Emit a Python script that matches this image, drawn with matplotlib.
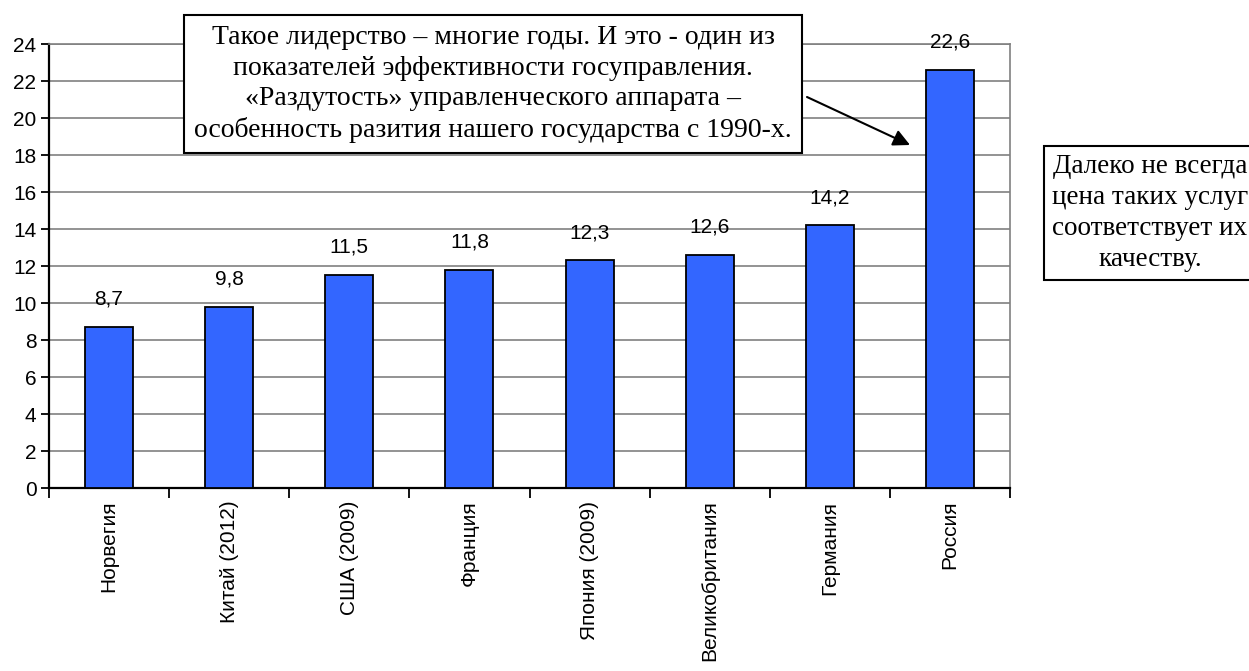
import numpy as np
import matplotlib.pyplot as plt
from matplotlib.patches import FancyArrowPatch

countries = ['Норвегия', 'Китай (2012)', 'США (2009)', 'Франция', 'Япония (2009)',
             'Великобритания', 'Германия', 'Россия']
values = [8.7, 9.8, 11.5, 11.8, 12.3, 12.6, 14.2, 22.6]
y_ticks = list(range(0, 25, 2))

note_main = ('Такое лидерство – многие годы. И это - один из\n'
             'показателей эффективности госуправления.\n'
             '«Раздутость» управленческого аппарата –\n'
             'особенность разития нашего государства с 1990-х.')
note_side = 'Далеко не всегда\nцена таких услуг\nсоответствует их\nкачеству.'

plt.rcParams['font.family'] = ['Liberation Sans', 'DejaVu Sans']

fig = plt.figure(figsize=(12.49, 6.71), dpi=100)
ax = fig.add_axes([0.0392, 0.2727, 0.7695, 0.6617])

x = np.arange(len(countries))
ax.bar(x, values, width=0.4, color='#3366FF', edgecolor='black', linewidth=1.3, zorder=3)

# подписи значений над столбцами
for xi, v in zip(x, values):
    ax.annotate(f'{v:.1f}'.replace('.', ','), (xi, v), xytext=(0, 20),
                textcoords='offset points', ha='center', va='center', fontsize=15)

ax.set_xlim(-0.5, len(countries) - 0.5)
ax.set_ylim(0, 24)
ax.set_yticks(y_ticks)
ax.set_yticklabels([str(t) for t in y_ticks], fontsize=15)
ax.yaxis.grid(True, color='#808080', linewidth=1.2, zorder=0)

ax.set_xticks(x)
ax.set_xticklabels(countries, rotation=90, fontsize=15, va='top')
ax.set_xticks(np.arange(-0.5, len(countries), 1), minor=True)
ax.tick_params(axis='x', which='major', length=0, pad=9)
ax.tick_params(axis='x', which='minor', length=7, width=1.3, direction='out')
ax.tick_params(axis='y', length=6, width=1.3, direction='out', pad=3)

ax.spines['left'].set_linewidth(1.6)
ax.spines['bottom'].set_linewidth(1.6)
for side in ('right', 'top'):
    ax.spines[side].set_color('#808080')
    ax.spines[side].set_linewidth(1.2)

# выноски
box = dict(boxstyle='square,pad=0.38', facecolor='white', edgecolor='black', linewidth=1.5)
fig.text(493 / 1249, 1 - 84 / 671, note_main, ha='center', va='center',
         family='Liberation Serif', fontsize=20, linespacing=1.28, bbox=box)
fig.text(1150 / 1249, 1 - 213 / 671, note_side, ha='center', va='center',
         family='Liberation Serif', fontsize=19.5, linespacing=1.3,
         bbox=dict(boxstyle='square,pad=0.3', facecolor='white', edgecolor='black', linewidth=1.5))

fig.patches.append(FancyArrowPatch(
    (807 / 1249, 1 - 97 / 671), (910 / 1249, 1 - 145 / 671),
    transform=fig.transFigure, arrowstyle='-|>', mutation_scale=25,
    color='black', linewidth=1.5, shrinkA=0, shrinkB=0))

fig.savefig('out.png', dpi=100)
